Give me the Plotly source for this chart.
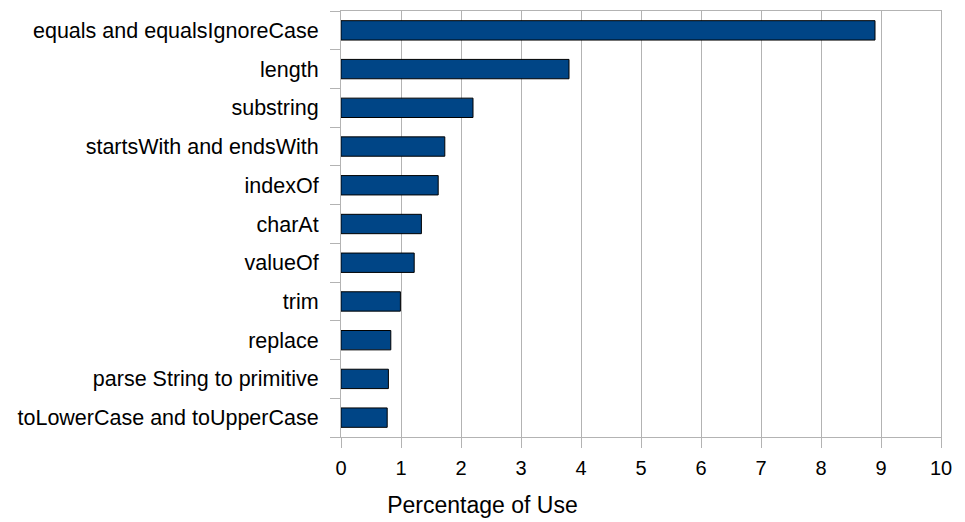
import plotly.graph_objects as go

# String method usage, most used at the top
methods = [
    "equals and equalsIgnoreCase",
    "length",
    "substring",
    "startsWith and endsWith",
    "indexOf",
    "charAt",
    "valueOf",
    "trim",
    "replace",
    "parse String to primitive",
    "toLowerCase and toUpperCase",
]
usage_pct = [8.9, 3.8, 2.2, 1.73, 1.62, 1.34, 1.22, 0.99, 0.83, 0.79, 0.77]
x_ticks = list(range(0, 11))

# Rows are placed at integer positions (a category axis would choke on the
# name "valueOf"), with tick marks on the boundaries between rows.
rows = list(range(len(methods)))
boundaries = [r - 0.5 for r in range(len(methods) + 1)]

grid = "#b3b3b3"
font = "Liberation Sans, Arial, sans-serif"

fig = go.Figure(
    go.Bar(
        x=usage_pct,
        y=rows,
        orientation="h",
        width=0.5,
        marker=dict(color="#004586", line=dict(color="#000000", width=1)),
        customdata=methods,
        hovertemplate="%{customdata}: %{x}<extra></extra>",
    )
)

fig.update_layout(
    width=965,
    height=522,
    margin=dict(l=341, r=24, t=11, b=85),
    paper_bgcolor="white",
    plot_bgcolor="white",
    showlegend=False,
    font=dict(family=font, color="#000000"),
    title=dict(
        text="Percentage of Use",
        xref="container",
        yref="container",
        x=0.5,
        xanchor="center",
        y=1 - 505 / 522,
        yanchor="middle",
        font=dict(size=23, family=font, color="#000000"),
    ),
)

fig.update_xaxes(
    range=[0, 10],
    tickvals=x_ticks,
    ticktext=[str(v) for v in x_ticks],
    showgrid=True,
    gridcolor=grid,
    gridwidth=1,
    zeroline=False,
    showline=True,
    linecolor=grid,
    linewidth=1,
    mirror=True,
    ticks="outside",
    ticklen=10,
    tickcolor=grid,
    ticklabelstandoff=3,
    tickfont=dict(size=20, family=font, color="#000000"),
)

fig.update_yaxes(
    range=[len(methods) - 0.5, -0.5],
    tickvals=rows,
    ticktext=methods,
    ticks="",
    ticklabelstandoff=17,
    showgrid=False,
    zeroline=False,
    showline=True,
    linecolor=grid,
    linewidth=1,
    mirror=True,
    minor=dict(
        tickvals=boundaries,
        ticks="outside",
        ticklen=10,
        tickcolor=grid,
        showgrid=False,
    ),
    tickfont=dict(size=21.5, family=font, color="#000000"),
)

fig.write_html("out.html")
